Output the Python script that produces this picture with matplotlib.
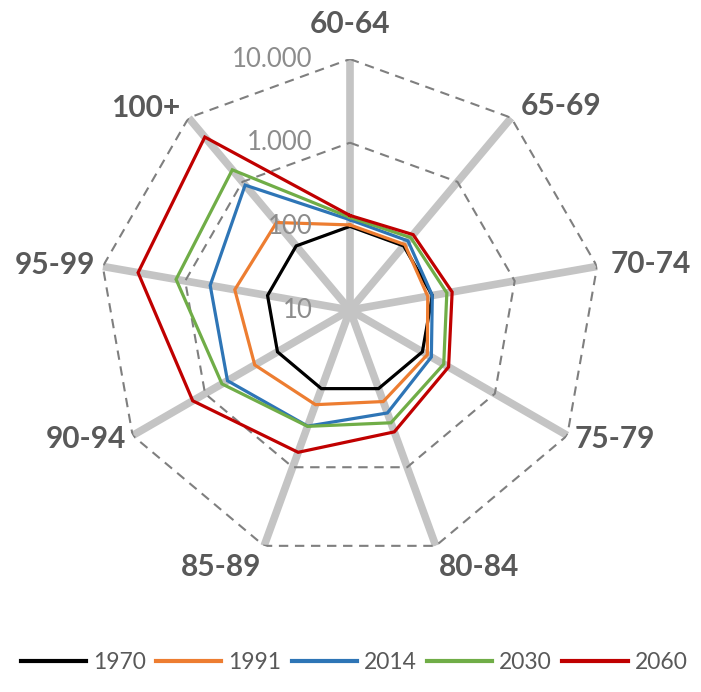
import numpy as np
import matplotlib.pyplot as plt

plt.rcParams['font.family'] = ['Lato', 'DejaVu Sans']

# population index by age group (1970 = 100), log radial scale
age_groups = ['60-64', '65-69', '70-74', '75-79', '80-84',
              '85-89', '90-94', '95-99', '100+']
idx_1970 = [100, 100, 100, 100, 100, 100, 100, 100, 100]
idx_1991 = [104, 105, 88, 117, 146, 160, 206, 250, 232]
idx_2014 = [120, 120, 100, 133, 204, 300, 490, 497, 890]
idx_2030 = [128, 135, 150, 197, 272, 302, 584, 1290, 1540]
idx_2060 = [135, 150, 174, 230, 355, 646, 1480, 3730, 5000]
years = ['1970', '1991', '2014', '2030', '2060']
colors = ['#000000', '#ED7D31', '#2E75B6', '#70AD47', '#C00000']
ring_values = [10, 100, 1000, 10000]
ring_labels = ['10', '100', '1.000', '10.000']

series = [idx_1970, idx_1991, idx_2014, idx_2030, idx_2060]

n = len(age_groups)
theta = np.arange(n) * 2 * np.pi / n
theta_closed = np.append(theta, theta[0])

fig = plt.figure(figsize=(7.01, 6.92), dpi=100)
ax = fig.add_axes([0.1412, 0.1893, 0.716, 0.7254], projection='polar')
ax.set_theta_zero_location('N')
ax.set_theta_direction(-1)
ax.set_rscale('log')
ax.set_rlim(ring_values[0], ring_values[-1])
ax.grid(False)
ax.spines['polar'].set_visible(False)
ax.set_xticks([])
ax.set_yticks([])
ax.patch.set_alpha(0)

# thick grey spokes
for t in theta:
    ax.plot([t, t], [ring_values[0], ring_values[-1]], color='#C4C4C4',
            lw=5.5, solid_capstyle='butt', zorder=1)

# dashed polygon gridlines
for r in ring_values[1:]:
    ax.plot(theta_closed, [r] * (n + 1), color='#7F7F7F', lw=1.5,
            dashes=(4.5, 3.2), zorder=2)

for vals, year, c, z in zip(series, years, colors, range(3, 8)):
    v = np.append(vals, vals[0])
    ax.plot(theta_closed, v, color=c, lw=2.3, label=year, zorder=z,
            solid_joinstyle='miter')

# radial tick labels left of the top spoke
for r, lab in zip(ring_values, ring_labels):
    ax.annotate(lab, xy=(0, r), xytext=(-27, 0), textcoords='offset points',
                ha='right', va='center', fontsize=18.5, color='#8C8C8C',
                zorder=9)

# category labels around the outside
for t, lab in zip(theta, age_groups):
    s, c = np.sin(t), np.cos(t)
    pad = 8 + 13 * max(0.0, c) ** 4 + 6 * max(0.0, s) ** 2 * (c > 0)
    ha = 'left' if s > 0.2 else ('right' if s < -0.2 else 'center')
    va = 'bottom' if c > 0.8 else ('top' if c < -0.8 else 'center')
    ax.annotate(lab, xy=(t, ring_values[-1]),
                xytext=(pad * s * 0.72, pad * c * 0.72),
                textcoords='offset points', ha=ha, va=va,
                fontsize=21.5, fontweight='bold', color='#595959',
                annotation_clip=False)

leg = fig.legend(loc='center', bbox_to_anchor=(0.505, 0.042), ncol=5,
                 frameon=False, fontsize=16.5, handlelength=2.85,
                 handletextpad=0.3, columnspacing=0.45)
for txt in leg.get_texts():
    txt.set_color('#595959')
for line in leg.get_lines():
    line.set_linewidth(3)

fig.savefig('out.png', dpi=100)
